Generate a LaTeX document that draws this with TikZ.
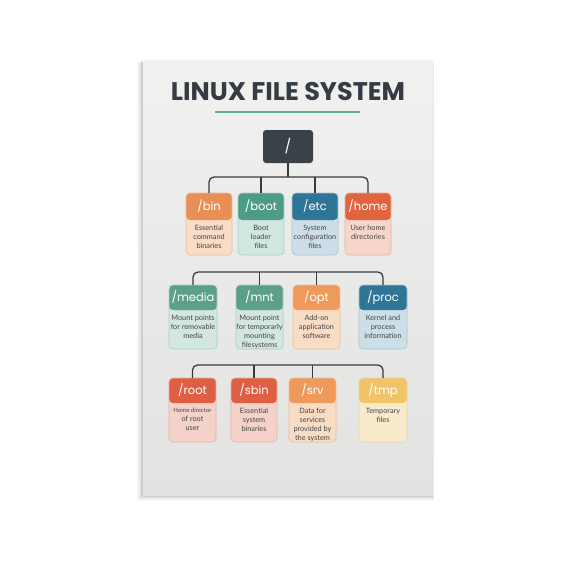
\documentclass[tikz,border=0pt]{standalone}
\usepackage{fontspec}
\setmainfont{Lato}
\newfontfamily\popfont{Poppins}
\usetikzlibrary{calc}
\definecolor{orH}{HTML}{E98F55}\definecolor{orB}{HTML}{F8DCC5}\definecolor{orE}{HTML}{E6BF9F}
\definecolor{oaH}{HTML}{EF9A5A}\definecolor{oaB}{HTML}{F9DCC4}\definecolor{oaE}{HTML}{E8BF9C}
\definecolor{gnH}{HTML}{4E9B87}\definecolor{gnB}{HTML}{D0E7E0}\definecolor{gnE}{HTML}{A9CFC4}
\definecolor{gmH}{HTML}{5DA08A}\definecolor{gmB}{HTML}{D3E6DF}\definecolor{gmE}{HTML}{ABCDC2}
\definecolor{blH}{HTML}{2F7596}\definecolor{blB}{HTML}{CCDFE8}\definecolor{blE}{HTML}{A8C5D3}
\definecolor{rdH}{HTML}{E2643F}\definecolor{rdB}{HTML}{F6D5CB}\definecolor{rdE}{HTML}{E8B2A4}
\definecolor{rrH}{HTML}{DE5F44}\definecolor{rrB}{HTML}{F4D2CA}\definecolor{rrE}{HTML}{E6AFA3}
\definecolor{ylH}{HTML}{F1C46A}\definecolor{ylB}{HTML}{F8EBCB}\definecolor{ylE}{HTML}{EAD3A0}
\definecolor{ink}{HTML}{353B43}
\definecolor{rootc}{HTML}{3B4149}
\definecolor{tealc}{HTML}{5FAE98}
\definecolor{desctext}{HTML}{444444}
\tikzset{
  fsbox/.style={rectangle, rounded corners=4pt, inner sep=0pt, outer sep=0pt, anchor=north west, line width=0.6pt},
  lbl/.style={text=white, font=\popfont\fontsize{11.5}{12}\selectfont, inner sep=0pt},
  desc/.style={text=desctext, font=\fontsize{7.3}{9}\selectfont, align=center, inner sep=0pt, anchor=north},
  conn/.style={draw=ink, line width=1.3pt, rounded corners=5pt},
}
\newcommand\fsbox[9]{%
  \node[fsbox, draw=#7E, fill=#7B, minimum width=#4pt, minimum height=#5pt,
    path picture={\fill[#7H] (path picture bounding box.north west) rectangle ([yshift=-#6pt]path picture bounding box.north east);}]
    (#1) at (#2,#3) {};
  \node[lbl] (#1-l) at ([yshift=-#6pt/2]#1.north) {#8};
  \node[desc] (#1-d) at ([yshift=-#6pt-5pt]#1.north) {#9};
}
\begin{document}
\begin{tikzpicture}[x=1pt,y=-1pt]
\useasboundingbox (0,0) rectangle (576,576);
\fill[white] (0,0) rectangle (576,576);
% poster shadow
\fill[black,opacity=0.04] (137,63) rectangle (434,501);
\fill[black,opacity=0.06] (139,62) rectangle (434,499);
\fill[black,opacity=0.10] (141,61) rectangle (433,497);
\shade[top color={rgb,255:red,241;green,241;blue,239}, bottom color={rgb,255:red,226;green,226;blue,224}] (143,60) rectangle (433,495);
% title
\node[text=ink, font=\popfont\bfseries\fontsize{25.5}{27}\selectfont, inner sep=0pt] (title) at (288,92) {LINUX FILE SYSTEM};
\coordinate (ul1) at (215,112); \coordinate (ul2) at (360,112);
\draw[tealc, line width=2pt] (ul1) -- (ul2);
% root
\node[fill=rootc, rounded corners=3pt, minimum width=50pt, minimum height=33pt, inner sep=0pt, text=white, font=\popfont\fontsize{14}{14}\selectfont] (root) at (288,146.5) {/};
% row 1
\fsbox{bin}{186}{193}{46}{62}{27}{or}{/bin}{Essential\\command\\binaries}
\fsbox{boot}{238}{193}{46}{62}{27}{gn}{/boot}{Boot\\loader\\files}
\fsbox{etc}{292}{193}{46}{62}{27}{bl}{/etc}{System\\configuration\\files}
\fsbox{home}{345}{193}{46}{62}{27}{rd}{/home}{User home\\directories}
% row 2
\fsbox{media}{169}{285}{48}{64}{25}{gm}{/media}{Mount points\\for removable\\media}
\fsbox{mnt}{236}{285}{47}{64}{25}{gm}{/mnt}{Mount point\\for temporarly\\mounting\\filesystems}
\fsbox{opt}{293}{285}{47}{64}{25}{oa}{/opt}{Add-on\\application\\software}
\fsbox{proc}{359}{285}{48}{64}{25}{bl}{/proc}{Kernel and\\process\\information}
% row 3
\fsbox{rootd}{169}{378}{47}{64}{25}{rr}{/root}{{\fontsize{6}{9}\selectfont Home director}\\of root\\user}
\fsbox{sbin}{231}{378}{46}{64}{25}{rr}{/sbin}{Essential\\system\\binaries}
\fsbox{srv}{289}{378}{47}{64}{25}{oa}{/srv}{Data for\\services\\provided by\\the system}
\fsbox{tmp}{359}{378}{48}{64}{25}{yl}{/tmp}{Temporary\\files}
% connectors
\coordinate (b1) at (288,177);
\draw[conn] (root.south) -- (b1);
\draw[conn] (bin.north) |- (b1) -| (home.north);
\draw[conn] (boot.north) -- (boot.north |- b1);
\draw[conn] (etc.north) -- (etc.north |- b1);
\coordinate (b2) at (288,272);
\draw[conn] (media.north) |- (b2) -| (proc.north);
\draw[conn] (mnt.north) -- (mnt.north |- b2);
\draw[conn] (opt.north) -- (opt.north |- b2);
\coordinate (b3) at (288,365);
\draw[conn] (rootd.north) |- (b3) -| (tmp.north);
\draw[conn] (sbin.north) -- (sbin.north |- b3);
\draw[conn] (srv.north) -- (srv.north |- b3);
\end{tikzpicture}
\end{document}
